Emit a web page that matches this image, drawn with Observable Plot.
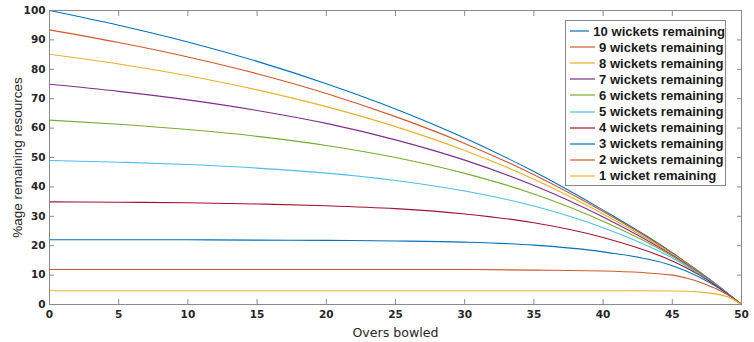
<!DOCTYPE html>
<html>
<head>
<meta charset="utf-8">
<script src="https://cdn.jsdelivr.net/npm/d3@7"></script>
<script src="https://cdn.jsdelivr.net/npm/@observablehq/plot@0.6"></script>
<style>
  html, body { margin: 0; padding: 0; background: #fff; }
  #wrap { position: relative; width: 754px; height: 342px; }
  #legend {
    position: absolute; left: 565px; top: 20px; width: 159px; height: 162px;
    border: 1px solid #8a8a8a; background: #fff; padding-top: 2px; box-sizing: content-box;
    font-family: "Liberation Sans", Arial, sans-serif; font-weight: bold; font-size: 13.1px; color: #1a1a1a;
  }
  .row { height: 16.1px; display: flex; align-items: center; white-space: nowrap; }
  .row svg { margin-left: 4px; margin-right: 4px; }
</style>
</head>
<body>
<div id="wrap"><div id="legend"></div></div>
<script>
// Overs bowled (x positions sampled)
const overs = [0, 5, 10, 15, 20, 25, 30, 35, 40, 45, 46, 47, 48, 49, 50];

// % of resources remaining, per wickets remaining
const w10 = [100.0, 95.0, 89.3, 82.7, 75.1, 66.5, 56.6, 45.2, 32.1, 17.6, 14.3, 11.0, 7.5, 3.8, 0];
const w9  = [93.4, 89.1, 84.2, 78.5, 71.8, 63.9, 54.8, 44.1, 31.6, 17.4, 14.2, 10.9, 7.4, 3.8, 0];
const w8  = [85.1, 81.8, 77.8, 73.0, 67.3, 60.5, 52.4, 42.6, 30.8, 17.1, 14.0, 10.8, 7.4, 3.8, 0];
const w7  = [74.9, 72.5, 69.6, 66.0, 61.6, 56.0, 49.1, 40.5, 29.8, 16.8, 13.8, 10.7, 7.3, 3.7, 0];
const w6  = [62.7, 61.3, 59.5, 57.2, 54.1, 50.0, 44.6, 37.6, 28.3, 16.4, 13.5, 10.5, 7.2, 3.7, 0];
const w5  = [49.0, 48.4, 47.6, 46.4, 44.7, 42.2, 38.6, 33.5, 26.1, 15.8, 13.1, 10.2, 7.1, 3.7, 0];
const w4  = [34.9, 34.8, 34.6, 34.2, 33.6, 32.6, 30.8, 27.8, 22.8, 14.8, 12.5, 9.9, 6.9, 3.6, 0];
const w3  = [22.0, 22.0, 22.0, 21.9, 21.8, 21.6, 21.2, 20.2, 17.9, 13.2, 11.4, 9.2, 6.6, 3.5, 0];
const w2  = [11.9, 11.9, 11.9, 11.9, 11.9, 11.9, 11.9, 11.7, 11.4, 10.0, 9.0, 7.6, 5.7, 3.3, 0];
const w1  = [4.7, 4.7, 4.7, 4.7, 4.7, 4.7, 4.7, 4.7, 4.7, 4.6, 4.5, 4.2, 3.7, 2.6, 0];

const seriesNames = [
  "10 wickets remaining", "9 wickets remaining", "8 wickets remaining",
  "7 wickets remaining", "6 wickets remaining", "5 wickets remaining",
  "4 wickets remaining", "3 wickets remaining", "2 wickets remaining",
  "1 wicket remaining"
];
const seriesColors = ["#0072BD", "#D0592A", "#E8B12A", "#7E2F8E", "#77AC30",
                      "#4DBEEE", "#A2142F", "#0072BD", "#D0592A", "#E8B12A"];
const xTicks = [0, 5, 10, 15, 20, 25, 30, 35, 40, 45, 50];
const yTicks = [0, 10, 20, 30, 40, 50, 60, 70, 80, 90, 100];
const xTitle = "Overs bowled";
const yTitle = "%age remaining resources";

const allSeries = [w10, w9, w8, w7, w6, w5, w4, w3, w2, w1];
const rows = allSeries.flatMap((vals, i) =>
  overs.map((o, j) => ({over: o, value: vals[j], name: seriesNames[i]})));

const axisGray = "#8a8a8a";
const chart = Plot.plot({
  width: 754,
  height: 342,
  marginLeft: 49,
  marginRight: 13,
  marginTop: 10,
  marginBottom: 38,
  style: {fontFamily: "DejaVu Sans", fontSize: "10.5px", fontWeight: "bold", color: "#262626", background: "#fff"},
  x: {domain: [0, 50]},
  y: {domain: [0, 100]},
  color: {domain: seriesNames, range: seriesColors},
  marks: [
    Plot.line(rows, {x: "over", y: "value", z: "name", stroke: "name", curve: "monotone-x", strokeWidth: 1.1}),
    Plot.frame({stroke: axisGray}),
    Plot.axisX({ticks: xTicks, tickSize: -5, tickPadding: 11.5, stroke: axisGray, label: null}),
    Plot.axisX({ticks: xTicks, anchor: "top", tickSize: -5, tickFormat: () => "", stroke: axisGray, label: null}),
    Plot.axisY({ticks: yTicks, tickSize: -5, tickPadding: 9, stroke: axisGray, label: null}),
    Plot.axisY({ticks: yTicks, anchor: "right", tickSize: -5, tickFormat: () => "", stroke: axisGray, label: null}),
    Plot.text([xTitle], {frameAnchor: "bottom", dy: 32, fontSize: 12.6, fontWeight: "normal", fill: "#262626"}),
    Plot.text([yTitle], {frameAnchor: "left", dx: -32, rotate: -90, textAnchor: "middle", fontFamily: "Liberation Sans", fontSize: 13.5, fontWeight: "normal", fill: "#262626"})
  ]
});
const wrap = document.getElementById("wrap");
wrap.insertBefore(chart, wrap.firstChild);

const legend = document.getElementById("legend");
seriesNames.forEach((n, i) => {
  const row = document.createElement("div");
  row.className = "row";
  row.innerHTML = `<svg width="25" height="4"><line x1="0" x2="25" y1="2" y2="2" stroke="${seriesColors[i]}" stroke-width="1.2"/></svg><span>${n}</span>`;
  legend.appendChild(row);
});
</script>
</body>
</html>
